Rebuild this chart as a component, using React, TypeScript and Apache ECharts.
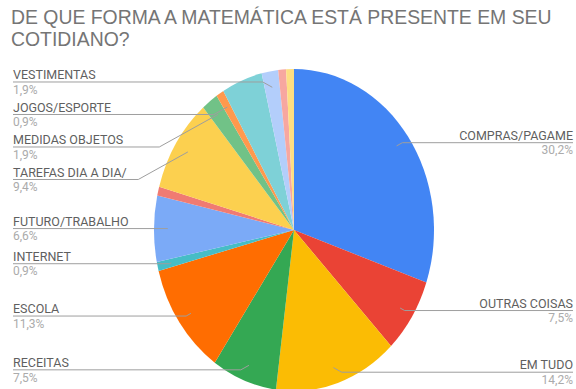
import React, { useEffect, useRef } from "react";
import * as echarts from "echarts";

// ---- data ----
const TITLE_LINES = ["DE QUE FORMA A MATEMÁTICA ESTÁ PRESENTE EM SEU", "COTIDIANO?"];
// clockwise from 12 o'clock; empty names = slices without a label in the reference
const categories = [
  "COMPRAS/PAGAME",
  "OUTRAS COISAS",
  "EM TUDO",
  "RECEITAS",
  "ESCOLA",
  "INTERNET",
  "FUTURO/TRABALHO",
  "",
  "TAREFAS DIA A DIA/",
  "MEDIDAS OBJETOS",
  "JOGOS/ESPORTE",
  "",
  "VESTIMENTAS",
  "",
  "",
];
const shares = [30.2, 7.5, 14.2, 7.5, 11.3, 0.9, 6.6, 0.9, 9.4, 1.9, 0.9, 4.7, 1.9, 0.9, 0.9];
const palette = [
  "#4285F4", "#EA4335", "#FBBC04", "#34A853", "#FF6D01", "#46BDC6", "#7BAAF7", "#F07B72",
  "#FCD04F", "#71C287", "#FF994D", "#7ED1D7", "#B3CEFB", "#F7A7A0", "#FDDE82",
];

// ---- layout ----
const W = 576;
const H = 389;
const CX = 294;
const CY = 230;
const RY = 161; // vertical radius of the (elliptic) pie
const RX = 140; // horizontal radius
const LABEL_R = 140; // radius of the invisible label-hosting pie
const VIEW_L = 13;
const VIEW_R = 3;
const FONT = "Roboto, 'Liberation Sans', Arial, sans-serif";
const TITLE_FONT = "'Liberation Sans', Arial, sans-serif";

export default function App() {
  const baseRef = useRef<HTMLDivElement>(null);
  const topRef = useRef<HTMLDivElement>(null);

  useEffect(() => {
    const base = echarts.init(baseRef.current!, undefined, { renderer: "svg" });
    const top = echarts.init(topRef.current!, undefined, { renderer: "svg" });

    base.setOption({
      animation: false,
      series: [
        {
          type: "pie",
          center: [CX, CY],
          radius: RY,
          startAngle: 90,
          clockwise: true,
          silent: true,
          label: { show: false },
          labelLine: { show: false },
          itemStyle: { borderWidth: 0 },
          data: categories.map((name, i) => ({
            name,
            value: shares[i],
            itemStyle: { color: palette[i] },
          })),
        },
      ],
    });

    top.setOption({
      animation: false,
      title: {
        text: TITLE_LINES.join("\n"),
        left: 11,
        top: 6,
        padding: 0,
        textStyle: {
          fontFamily: TITLE_FONT,
          fontSize: 19.4,
          fontWeight: "normal",
          color: "#757575",
          lineHeight: 22,
        },
      },
      series: [
        {
          type: "pie",
          left: VIEW_L,
          right: VIEW_R,
          top: 0,
          bottom: 0,
          center: [CX - VIEW_L, CY],
          radius: LABEL_R,
          startAngle: 90,
          clockwise: true,
          silent: true,
          itemStyle: { color: "rgba(0,0,0,0)", borderWidth: 0 },
          label: {
            show: true,
            alignTo: "edge",
            edgeDistance: 0,
            minMargin: 5,
            formatter: (p: any) =>
              `{name|${p.name}}\n{pct|${Number(p.value).toFixed(1).replace(".", ",")}%}`,
            rich: {
              name: { fontFamily: FONT, fontSize: 12.5, color: "#5f5f5f", lineHeight: 15 },
              pct: { fontFamily: FONT, fontSize: 12, color: "#ababab", lineHeight: 15 },
            },
          },
          labelLine: {
            show: true,
            length: 10,
            length2: 0,
            lineStyle: { color: "#9e9e9e", width: 1 },
          },
          labelLayout: (p: any) => {
            const pts = p.labelLinePoints;
            if (!pts) return {};
            const ux = (pts[0][0] - CX) / LABEL_R;
            const uy = (pts[0][1] - CY) / LABEL_R;
            const px = CX + ux * 0.9 * RX;
            const py = CY + uy * 0.9 * RY;
            const r = p.labelRect;
            const isLeft = r.x + r.width / 2 < CX;
            const ly = r.y + r.height / 2;
            const ex = isLeft ? r.x : r.x + r.width;
            const bend = Math.min(Math.abs(py - ly) * 1.8, Math.abs(px - ex));
            const bx = isLeft ? px - bend : px + bend;
            return {
              labelLinePoints: [
                [px, py],
                [bx, ly],
                [ex, ly],
              ],
            };
          },
          data: categories.map((name, i) => ({
            name,
            value: shares[i],
            label: { show: name !== "" },
            labelLine: { show: name !== "" },
          })),
        },
      ],
    });

    return () => {
      base.dispose();
      top.dispose();
    };
  }, []);

  return (
    <div
      style={{
        position: "fixed",
        left: 0,
        top: 0,
        width: W,
        height: H,
        background: "#fff",
        overflow: "hidden",
      }}
    >
      <div
        ref={baseRef}
        style={{
          position: "absolute",
          left: 0,
          top: 0,
          width: W,
          height: H,
          transform: `scaleX(${RX / RY})`,
          transformOrigin: `${CX}px ${CY}px`,
        }}
      />
      <div ref={topRef} style={{ position: "absolute", left: 0, top: 0, width: W, height: H }} />
    </div>
  );
}
